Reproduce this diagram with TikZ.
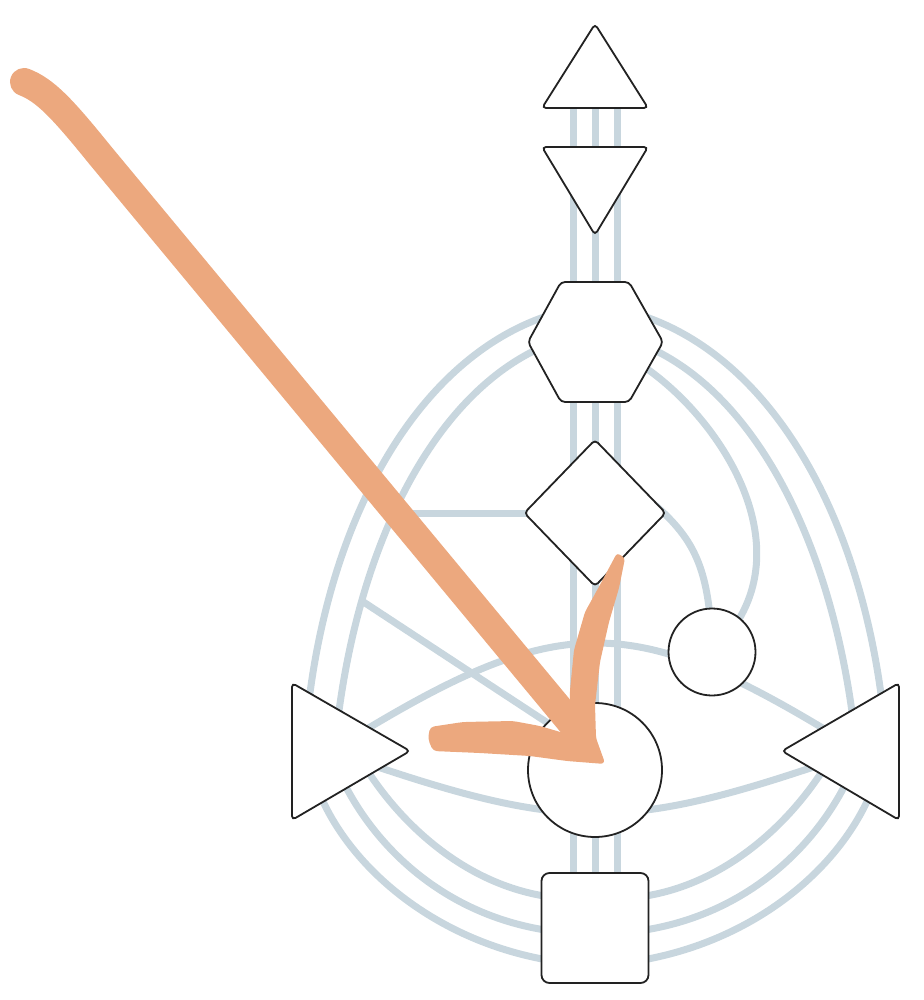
\documentclass[tikz,border=0pt]{standalone}
\usetikzlibrary{shapes.geometric,calc}
\definecolor{chan}{RGB}{200,214,222}
\definecolor{brushc}{RGB}{236,168,126}
\definecolor{ink}{RGB}{34,34,34}
\pgfdeclarelayer{bg}
\pgfdeclarelayer{fg}
\pgfsetlayers{bg,main,fg}
\begin{document}
\begin{tikzpicture}[x=1pt,y=-1pt,
  ch/.style={draw=chan,line width=7pt},
  ctr/.style={draw=ink,line width=1.8pt,fill=white,rounded corners=4pt},
  rctr/.style={draw=ink,line width=1.8pt,fill=white,circle,inner sep=0pt},
  brushfill/.style={fill=brushc},
  brushline/.style={draw=brushc,line width=28pt,line cap=round}]
\useasboundingbox (0,0) rectangle (923,1000);

% centres
\coordinate (head) at (595,80);
\coordinate (ajna) at (595,180);
\coordinate (thr) at (595,342);
\coordinate (spl) at (331,751);
\coordinate (sol) at (860,751);
\coordinate (gj) at (398,513);
\coordinate (sj) at (362,601);

% centre shapes
\draw[ctr] (542,108) -- (595,24) -- (648,108) -- cycle;
\draw[ctr] (542,147) -- (648,147) -- (595,235) -- cycle;
\draw[ctr] (561,282) -- (629,282) -- (663,342) -- (629,402) -- (561,402) -- (528,342) -- cycle;
\node[diamond,draw=ink,line width=1.8pt,fill=white,rounded corners=4pt,inner sep=0pt,
      minimum width=142pt,minimum height=147pt] (G) at (595,513) {};
\node[rctr,minimum size=87pt] (heart) at (712,652) {};
\node[rctr,minimum size=134pt] (sac) at (595,770) {};
\node[draw=ink,line width=1.8pt,fill=white,rounded corners=8pt,inner sep=0pt,
      minimum width=107pt,minimum height=110pt] (root) at (595,928) {};
\draw[ctr] (292,683) -- (410,751) -- (292,820) -- cycle;
\draw[ctr] (899,683) -- (782,751) -- (899,820) -- cycle;

% channels
\begin{pgfonlayer}{bg}
\foreach \dx in {-22,0,22}
  \draw[ch] ([shift={(\dx,0)}]head) -- ([shift={(\dx,0)}]root.center);
% throat - spleen
\draw[ch] ([shift={(-35,-30)}]thr) .. controls (420,350) and (322,520) .. ([shift={(-26,-11)}]spl);
\draw[ch] ([shift={(-35,-2)}]thr) .. controls (440,380) and (355,540) .. ([shift={(4,-6)}]spl);
% throat - solar plexus
\draw[ch] ([shift={(35,-30)}]thr) .. controls (770,350) and (868,520) .. ([shift={(26,-11)}]sol);
\draw[ch] ([shift={(35,-2)}]thr) .. controls (750,380) and (835,540) .. ([shift={(-4,-6)}]sol);
% throat - heart, G - heart
\draw[ch] ([shift={(45,22)}]thr) .. controls (725,420) and (812,560) .. (heart.center);
\draw[ch] ([shift={(60,-8)}]G.center) .. controls (695,540) and (710,570) .. (heart.center);
% G - spleen arc, spleen arc - sacral
\draw[ch] (G.center) -- (gj);
\draw[ch] (sj) -- ([shift={(0,-16)}]sac.center);
% spleen - solar plexus (through heart / under sacral)
\draw[ch] (spl) .. controls (562,607) and (630,607) .. (sol);
\draw[ch] (spl) .. controls (569,834) and (623,834) .. (sol);
% spleen - root
\draw[ch] ([shift={(-13,39)}]spl) .. controls (350,870) and (440,945) .. ([shift={(-35,34)}]root.center);
\draw[ch] ([shift={(9,24)}]spl) .. controls (375,850) and (450,920) .. ([shift={(-35,4)}]root.center);
\draw[ch] ([shift={(31,11)}]spl) .. controls (400,825) and (470,890) .. ([shift={(-35,-30)}]root.center);
% solar plexus - root
\draw[ch] ([shift={(12,39)}]sol) .. controls (840,870) and (750,945) .. ([shift={(35,34)}]root.center);
\draw[ch] ([shift={(-10,24)}]sol) .. controls (815,850) and (740,920) .. ([shift={(35,4)}]root.center);
\draw[ch] ([shift={(-32,11)}]sol) .. controls (790,825) and (720,890) .. ([shift={(35,-30)}]root.center);
\end{pgfonlayer}

% brush arrow
\begin{pgfonlayer}{fg}
\draw[brushline] (24,82) .. controls (45,90) and (62,108) .. (100,155) -- (582,736);
\fill[brushfill,rounded corners=3pt] (617,553) -- (625,558) -- (619,588) -- (609,622) -- (600,662)
  -- (595,705) -- (596,738) -- (605,763) -- (580,758) -- (569,735) -- (570,690) -- (574,650)
  -- (585,612) -- (601,583) -- cycle;
\fill[brushfill,rounded corners=4pt] (430,727) -- (463,722) -- (513,721) -- (540,726) -- (567,734)
  -- (593,742) -- (605,764) -- (567,761) -- (530,756) -- (480,753) -- (433,751) -- (428,739) -- cycle;
\end{pgfonlayer}
\end{tikzpicture}
\end{document}
